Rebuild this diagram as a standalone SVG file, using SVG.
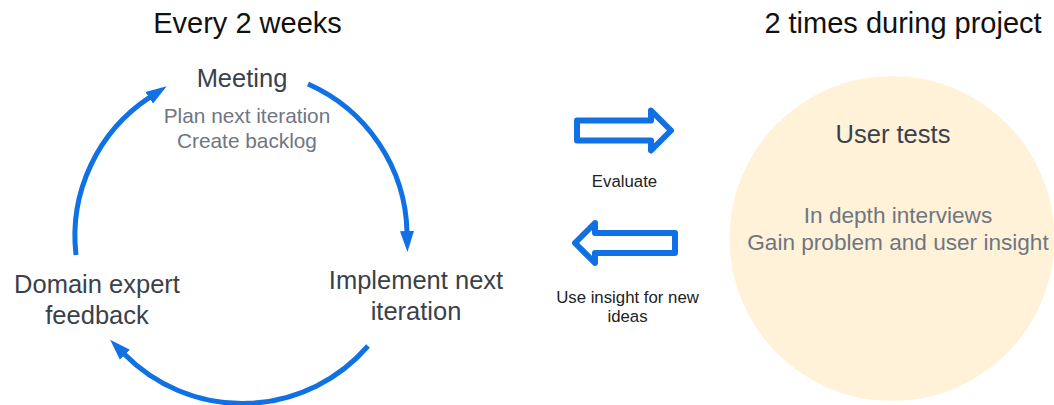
<svg xmlns="http://www.w3.org/2000/svg" width="1054" height="405" viewBox="0 0 1054 405">
  <style>
    text { font-family: "Liberation Sans", Arial, sans-serif; text-anchor: middle; }
    .title { font-size: 29px; fill: #111111; }
    .head { font-size: 25.5px; fill: #3a414a; }
    .sub { font-size: 20.8px; fill: #6f7681; }
    .sub2 { font-size: 22.6px; fill: #6f7681; }
    .small { font-size: 16.8px; fill: #222222; }
    .arc { fill: none; stroke: #1071e5; stroke-width: 5; }
    .block { fill: #ffffff; stroke: #1071e5; stroke-width: 6; stroke-linejoin: round; }
  </style>
  <defs>
    <marker id="head" markerUnits="userSpaceOnUse" markerWidth="22" markerHeight="16" viewBox="0 -8 22 16" refX="1" refY="0" orient="auto">
      <path d="M0,-7 L21,0 L0,7 z" fill="#1071e5"/>
    </marker>
  </defs>

  <rect x="0" y="0" width="1054" height="405" fill="#ffffff"/>

  <text class="title" x="247.5" y="33">Every 2 weeks</text>
  <text class="title" x="903" y="33">2 times during project</text>

  <g id="connectors">
    <path class="arc" d="M76,255 A166,166 0 0 1 150,97.2" marker-end="url(#head)"/>
    <path class="arc" d="M308,84 A166,166 0 0 1 407,232" marker-end="url(#head)"/>
    <path class="arc" d="M368,346 A166,166 0 0 1 124.2,354" marker-end="url(#head)"/>
  </g>

  <g id="meeting">
    <text class="head" x="242" y="87">Meeting</text>
    <text class="sub" x="247" y="122.5">Plan next iteration</text>
    <text class="sub" x="247" y="148">Create backlog</text>
  </g>

  <g id="implement">
    <text class="head" x="416" y="289">Implement next</text>
    <text class="head" x="416" y="320">iteration</text>
  </g>

  <g id="feedback">
    <text class="head" x="97" y="293">Domain expert</text>
    <text class="head" x="97" y="324">feedback</text>
  </g>

  <g id="evaluate">
    <path class="block" d="M577,120.5 L651,120.5 L651,110.5 L671,130.5 L651,150.5 L651,140.5 L577,140.5 Z"/>
    <text class="small" x="624.5" y="187">Evaluate</text>
  </g>

  <g id="insight">
    <path class="block" d="M675,233 L595,233 L595,223 L575,243 L595,263 L595,253 L675,253 Z"/>
    <text class="small" x="627.5" y="303">Use insight for new</text>
    <text class="small" x="627.5" y="322">ideas</text>
  </g>

  <g id="user-tests">
    <circle cx="892" cy="238.5" r="162.5" fill="#fff2d9"/>
    <text class="head" x="893" y="143">User tests</text>
    <text class="sub2" x="898" y="223">In depth interviews</text>
    <text class="sub2" x="898" y="250">Gain problem and user insight</text>
  </g>
</svg>
